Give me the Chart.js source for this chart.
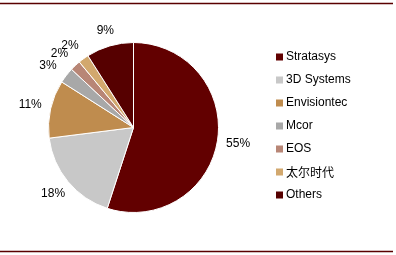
<!DOCTYPE html>
<html><head><meta charset="utf-8">
<script src="https://cdn.jsdelivr.net/npm/chart.js@4"></script>
<style>html,body{margin:0;padding:0;background:#fff}#wrap{width:396px;height:255px;position:relative}</style>
</head><body><div id="wrap"><canvas id="c" width="396" height="255"></canvas></div>
<script>
const categories = ['Stratasys','3D Systems','Envisiontec','Mcor','EOS','太尔时代','Others'];
const shares = [55,18,11,3,2,2,9];
const shareLabels = ['55%','18%','11%','3%','2%','2%','9%'];
const colors = ['#620000','#C8C8C8','#BF8C4E','#A8A8A8','#B88676','#D2A86E','#560000'];

const deco = {
  id:'deco',
  afterDraw(chart){
    const ctx = chart.ctx;
    ctx.save();
    ctx.strokeStyle = '#5a0000';
    ctx.lineWidth = 1.5;
    ctx.beginPath(); ctx.moveTo(0,3.5); ctx.lineTo(393,3.5); ctx.stroke();
    ctx.beginPath(); ctx.moveTo(0,251.5); ctx.lineTo(393,251.5); ctx.stroke();
    // slice labels
    const meta = chart.getDatasetMeta(0);
    ctx.font = '12px "Liberation Sans", Arial, sans-serif';
    ctx.fillStyle = '#000';
    ctx.textAlign = 'center';
    ctx.textBaseline = 'middle';
    let prev = null;
    meta.data.forEach((arc,i)=>{
      const p = arc.getProps(['x','y','startAngle','endAngle','outerRadius'],true);
      let a = (p.startAngle+p.endAngle)/2;
      const r = p.outerRadius + 14 + 7*Math.abs(Math.cos(a));
      let x = p.x + Math.cos(a)*r, y = p.y + Math.sin(a)*r;
      // nudge crowded small-slice labels apart
      if (shares[i] <= 3 && prev) { x -= 3; y += 2; }
      ctx.fillText(shareLabels[i], x, y);
      prev = shares[i];
    });
    // legend
    const lx = 276, ly0 = 57, step = 23;
    categories.forEach((c,i)=>{
      const y = ly0 + i*step;
      ctx.fillStyle = colors[i];
      ctx.fillRect(lx, y-3.5, 7, 7);
      ctx.fillStyle = '#000';
      ctx.textAlign = 'left';
      ctx.font = (i===5 ? '12px "Noto Sans CJK SC", sans-serif' : '12px "Liberation Sans", Arial, sans-serif');
      ctx.fillText(c, lx+10, y);
    });
    ctx.restore();
  }
};

new Chart(document.getElementById('c'), {
  type:'pie',
  data:{labels:categories, datasets:[{data:shares, backgroundColor:colors, borderColor:'#fff', borderWidth:1}]},
  options:{
    responsive:false, animation:false,
    layout:{padding:{left:48,right:177,top:42,bottom:42}},
    plugins:{legend:{display:false}, tooltip:{enabled:false}}
  },
  plugins:[deco]
});
</script></body></html>
